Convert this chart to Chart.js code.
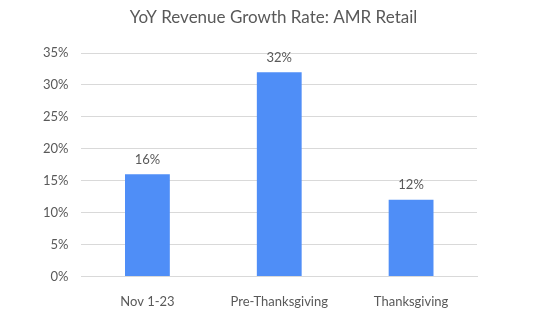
<!DOCTYPE html>
<html>
<head>
<meta charset="utf-8">
<script src="https://cdn.jsdelivr.net/npm/chart.js@4"></script>
<style>
  html, body { margin: 0; padding: 0; background: #fff; }
  #wrap { width: 547px; height: 323px; }
</style>
</head>
<body>
<div id="wrap"><canvas id="chart" width="547" height="323"></canvas></div>
<script>
const categories = ['Nov 1-23', 'Pre-Thanksgiving', 'Thanksgiving'];
const growthRates = [16, 32, 12];
const yTicks = [0, 5, 10, 15, 20, 25, 30, 35];
const chartTitle = 'YoY Revenue Growth Rate: AMR Retail';

const gray = '#595959';

// title centred on the whole canvas, plus labels above each bar
const extras = {
    id: 'extras',
    afterDatasetsDraw(chart) {
        const ctx = chart.ctx;
        const meta = chart.getDatasetMeta(0);
        ctx.save();
        ctx.fillStyle = gray;
        ctx.textAlign = 'center';

        ctx.font = '17px Lato';
        ctx.textBaseline = 'middle';
        ctx.fillText(chartTitle, chart.width / 2, 18);

        ctx.font = '13px Lato';
        ctx.textBaseline = 'bottom';
        meta.data.forEach((bar, i) => {
            ctx.fillText(growthRates[i] + '%', bar.x, bar.y - 8);
        });
        ctx.restore();
    }
};

new Chart(document.getElementById('chart'), {
    type: 'bar',
    data: {
        labels: categories,
        datasets: [{
            data: growthRates,
            backgroundColor: '#4F8EF7',
            categoryPercentage: 1,
            barPercentage: 0.34
        }]
    },
    options: {
        responsive: false,
        animation: false,
        layout: { padding: { left: 30, right: 70, top: 53, bottom: 3 } },
        plugins: {
            legend: { display: false },
            tooltip: { enabled: false },
            title: { display: false }
        },
        scales: {
            x: {
                grid: { display: false },
                border: { color: '#d9d9d9' },
                ticks: { color: gray, font: { family: 'Lato', size: 13 }, padding: 10 }
            },
            y: {
                min: 0,
                max: 35,
                afterBuildTicks: axis => { axis.ticks = yTicks.map(v => ({ value: v })); },
                grid: { color: '#d9d9d9', drawTicks: false },
                border: { display: false },
                ticks: {
                    color: gray,
                    font: { family: 'Lato', size: 13 },
                    padding: 13,
                    callback: v => v + '%'
                }
            }
        }
    },
    plugins: [extras]
});
</script>
</body>
</html>
